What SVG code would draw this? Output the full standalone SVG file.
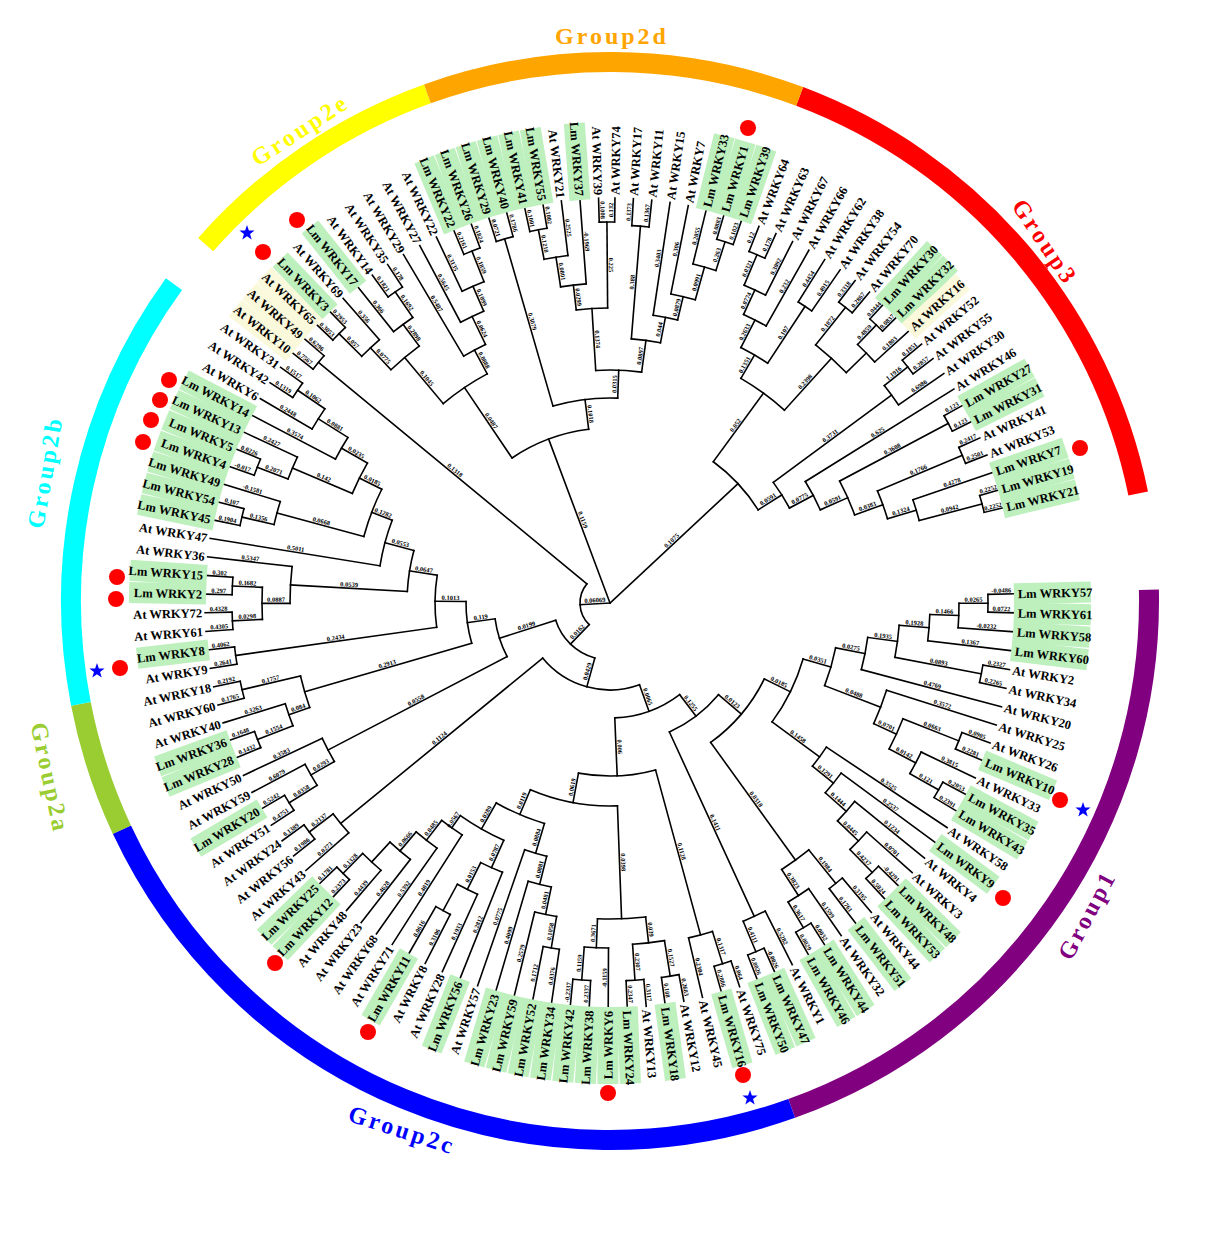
<svg xmlns="http://www.w3.org/2000/svg" width="1227" height="1243" viewBox="0 0 1227 1243">
<style>
.t path,.t circle{fill:none;stroke:#000;stroke-width:1.6;stroke-linecap:square}
.lf text{font:bold 12.5px "Liberation Serif",serif;fill:#000}
.lf text.e{text-anchor:end}
.g{fill:#bdf0bd}
.y{fill:#fbf9dc}
.bl text{font:bold 6.5px "Liberation Serif",serif;fill:#000;text-anchor:middle}
.ring circle{fill:none;stroke-width:20}
.gl{font:bold 24px "Liberation Serif",serif;letter-spacing:3px;text-anchor:middle}
.dot{fill:#f00}
.star{fill:#00f}
</style>
<defs>
<path id="st" d="M0,-8L1.88,-2.59L7.61,-2.47L3.04,0.99L4.7,6.47L0,3.2L-4.7,6.47L-3.04,0.99L-7.61,-2.47L-1.88,-2.59Z"/>
</defs>
<rect width="1227" height="1243" fill="#fff"/>
<g id="group-rings" class="ring">
<circle cx="610" cy="601" r="539" pathLength="360" stroke="#f00" stroke-dasharray="57.9 400" transform="rotate(-69.4 610 601)"/>
<circle cx="610" cy="601" r="539" pathLength="360" stroke="#800080" stroke-dasharray="71.5 400" transform="rotate(-1.2 610 601)"/>
<circle cx="610" cy="601" r="539" pathLength="360" stroke="#00f" stroke-dasharray="84.6 400" transform="rotate(70.3 610 601)"/>
<circle cx="610" cy="601" r="539" pathLength="360" stroke="#9acd32" stroke-dasharray="14.1 400" transform="rotate(154.9 610 601)"/>
<circle cx="610" cy="601" r="539" pathLength="360" stroke="#0ff" stroke-dasharray="47 400" transform="rotate(169 610 601)"/>
<circle cx="610" cy="601" r="539" pathLength="360" stroke="#ff0" stroke-dasharray="28.8 400" transform="rotate(221.4 610 601)"/>
<circle cx="610" cy="601" r="539" pathLength="360" stroke="#ffa500" stroke-dasharray="40.4 400" transform="rotate(250.2 610 601)"/>
</g>
<g id="group-labels" class="gl">
<text x="612" y="44" fill="#ffa500">Group2d</text>
<text transform="translate(1045 242) rotate(56)" y="8" fill="#f00">Group3</text>
<text transform="translate(1087 915) rotate(-62)" y="8" fill="#800080">Group1</text>
<text transform="translate(402 1130) rotate(18)" y="8" fill="#00f">Group2c</text>
<text transform="translate(50 778) rotate(78)" y="8" fill="#9acd32">Group2a</text>
<text transform="translate(45 472) rotate(-80)" y="8" fill="#0ff">Group2b</text>
<text transform="translate(300 130) rotate(-33)" y="8" fill="#ff0">Group2e</text>
</g>
<g transform="translate(610 603)">
<g id="connectors" class="t">
<path d="M0 0H30" transform="rotate(176.7)"/>
<path d="M0 0H175" transform="rotate(249.48)"/>
<path d="M0 0H175" transform="rotate(-43)"/>
<circle r="30" pathLength="360" stroke-dasharray="85.67 400" transform="rotate(133.87)"/>
<path d="M30 0H378" transform="rotate(219.54)"/>
<path d="M30 0H57" transform="rotate(133.87)"/>
<circle r="378" pathLength="360" stroke-dasharray="2.64 400" transform="rotate(218.22)"/>
<path d="M378 0H405" transform="rotate(218.22)"/>
<path d="M378 0H405" transform="rotate(220.86)"/>
<circle r="57" pathLength="360" stroke-dasharray="56.87 400" transform="rotate(105.44)"/>
<path d="M57 0H87" transform="rotate(105.44)"/>
<path d="M57 0H116" transform="rotate(162.31)"/>
<circle r="116" pathLength="360" stroke-dasharray="19.71 400" transform="rotate(152.46)"/>
<path d="M116 0H318" transform="rotate(152.46)"/>
<path d="M116 0H144" transform="rotate(172.17)"/>
<circle r="144" pathLength="360" stroke-dasharray="16.8 400" transform="rotate(163.77)"/>
<path d="M144 0H318" transform="rotate(163.77)"/>
<path d="M144 0H175" transform="rotate(180.57)"/>
<circle r="175" pathLength="360" stroke-dasharray="17.1 400" transform="rotate(172.02)"/>
<path d="M175 0H378" transform="rotate(172.02)"/>
<path d="M175 0H203" transform="rotate(189.12)"/>
<circle r="378" pathLength="360" stroke-dasharray="2.64 400" transform="rotate(170.7)"/>
<path d="M378 0H405" transform="rotate(170.7)"/>
<path d="M378 0H405" transform="rotate(173.34)"/>
<circle r="203" pathLength="360" stroke-dasharray="11.76 400" transform="rotate(183.24)"/>
<path d="M203 0H320" transform="rotate(183.24)"/>
<path d="M203 0H233" transform="rotate(195)"/>
<circle r="320" pathLength="360" stroke-dasharray="6.6 400" transform="rotate(179.94)"/>
<path d="M320 0H348" transform="rotate(179.94)"/>
<path d="M320 0H405" transform="rotate(186.54)"/>
<circle r="348" pathLength="360" stroke-dasharray="5.28 400" transform="rotate(177.3)"/>
<path d="M348 0H378" transform="rotate(177.3)"/>
<path d="M348 0H378" transform="rotate(182.58)"/>
<circle r="378" pathLength="360" stroke-dasharray="2.64 400" transform="rotate(175.98)"/>
<path d="M378 0H405" transform="rotate(175.98)"/>
<path d="M378 0H405" transform="rotate(178.62)"/>
<circle r="378" pathLength="360" stroke-dasharray="2.64 400" transform="rotate(181.26)"/>
<path d="M378 0H405" transform="rotate(181.26)"/>
<path d="M378 0H405" transform="rotate(183.9)"/>
<circle r="233" pathLength="360" stroke-dasharray="11.63 400" transform="rotate(189.18)"/>
<path d="M233 0H405" transform="rotate(189.18)"/>
<path d="M233 0H255" transform="rotate(200.81)"/>
<circle r="255" pathLength="360" stroke-dasharray="11.385 400" transform="rotate(195.12)"/>
<path d="M255 0H345" transform="rotate(195.12)"/>
<path d="M255 0H280" transform="rotate(206.505)"/>
<circle r="345" pathLength="360" stroke-dasharray="3.96 400" transform="rotate(193.14)"/>
<path d="M345 0H378" transform="rotate(193.14)"/>
<path d="M345 0H405" transform="rotate(197.1)"/>
<circle r="378" pathLength="360" stroke-dasharray="2.64 400" transform="rotate(191.82)"/>
<path d="M378 0H405" transform="rotate(191.82)"/>
<path d="M378 0H405" transform="rotate(194.46)"/>
<circle r="280" pathLength="360" stroke-dasharray="6.93 400" transform="rotate(203.04)"/>
<path d="M280 0H345" transform="rotate(203.04)"/>
<path d="M280 0H310" transform="rotate(209.97)"/>
<circle r="345" pathLength="360" stroke-dasharray="3.96 400" transform="rotate(201.06)"/>
<path d="M345 0H378" transform="rotate(201.06)"/>
<path d="M345 0H405" transform="rotate(205.02)"/>
<circle r="378" pathLength="360" stroke-dasharray="2.64 400" transform="rotate(199.74)"/>
<path d="M378 0H405" transform="rotate(199.74)"/>
<path d="M378 0H405" transform="rotate(202.38)"/>
<circle r="310" pathLength="360" stroke-dasharray="4.62 400" transform="rotate(207.66)"/>
<path d="M310 0H405" transform="rotate(207.66)"/>
<path d="M310 0H345" transform="rotate(212.28)"/>
<circle r="345" pathLength="360" stroke-dasharray="3.96 400" transform="rotate(210.3)"/>
<path d="M345 0H405" transform="rotate(210.3)"/>
<path d="M345 0H378" transform="rotate(214.26)"/>
<circle r="378" pathLength="360" stroke-dasharray="2.64 400" transform="rotate(212.94)"/>
<path d="M378 0H405" transform="rotate(212.94)"/>
<path d="M378 0H405" transform="rotate(215.58)"/>
<circle r="318" pathLength="360" stroke-dasharray="5.94 400" transform="rotate(160.8)"/>
<path d="M318 0H340" transform="rotate(160.8)"/>
<path d="M318 0H378" transform="rotate(166.74)"/>
<circle r="340" pathLength="360" stroke-dasharray="3.96 400" transform="rotate(158.82)"/>
<path d="M340 0H378" transform="rotate(158.82)"/>
<path d="M340 0H405" transform="rotate(162.78)"/>
<circle r="378" pathLength="360" stroke-dasharray="2.64 400" transform="rotate(157.5)"/>
<path d="M378 0H405" transform="rotate(157.5)"/>
<path d="M378 0H405" transform="rotate(160.14)"/>
<circle r="378" pathLength="360" stroke-dasharray="2.64 400" transform="rotate(165.42)"/>
<path d="M378 0H405" transform="rotate(165.42)"/>
<path d="M378 0H405" transform="rotate(168.06)"/>
<circle r="318" pathLength="360" stroke-dasharray="4.71 400" transform="rotate(150.1)"/>
<path d="M318 0H345" transform="rotate(150.1)"/>
<path d="M318 0H405" transform="rotate(154.81)"/>
<circle r="345" pathLength="360" stroke-dasharray="4.03 400" transform="rotate(148.09)"/>
<path d="M345 0H378" transform="rotate(148.09)"/>
<path d="M345 0H405" transform="rotate(152.12)"/>
<circle r="378" pathLength="360" stroke-dasharray="2.69 400" transform="rotate(146.74)"/>
<path d="M378 0H405" transform="rotate(146.74)"/>
<path d="M378 0H405" transform="rotate(149.43)"/>
<circle r="87" pathLength="360" stroke-dasharray="70.51 400" transform="rotate(70.18)"/>
<path d="M87 0H115" transform="rotate(70.18)"/>
<path d="M87 0H348" transform="rotate(140.69)"/>
<circle r="348" pathLength="360" stroke-dasharray="4.04 400" transform="rotate(138.67)"/>
<path d="M348 0H405" transform="rotate(138.67)"/>
<path d="M348 0H378" transform="rotate(142.71)"/>
<circle r="378" pathLength="360" stroke-dasharray="2.69 400" transform="rotate(141.36)"/>
<path d="M378 0H405" transform="rotate(141.36)"/>
<path d="M378 0H405" transform="rotate(144.05)"/>
<circle r="115" pathLength="360" stroke-dasharray="34.88 400" transform="rotate(52.74)"/>
<path d="M115 0H142" transform="rotate(52.74)"/>
<path d="M115 0H173" transform="rotate(87.62)"/>
<circle r="173" pathLength="360" stroke-dasharray="25.76 400" transform="rotate(74.74)"/>
<path d="M173 0H344" transform="rotate(74.74)"/>
<path d="M173 0H203" transform="rotate(100.5)"/>
<circle r="344" pathLength="360" stroke-dasharray="4.125 400" transform="rotate(72.675)"/>
<path d="M344 0H378" transform="rotate(72.675)"/>
<path d="M344 0H405" transform="rotate(76.8)"/>
<circle r="378" pathLength="360" stroke-dasharray="2.69 400" transform="rotate(71.33)"/>
<path d="M378 0H405" transform="rotate(71.33)"/>
<path d="M378 0H405" transform="rotate(74.02)"/>
<circle r="203" pathLength="360" stroke-dasharray="25.2 400" transform="rotate(87.9)"/>
<path d="M203 0H316" transform="rotate(87.9)"/>
<path d="M203 0H230" transform="rotate(113.1)"/>
<circle r="316" pathLength="360" stroke-dasharray="8.745 400" transform="rotate(83.525)"/>
<path d="M316 0H342" transform="rotate(83.525)"/>
<path d="M316 0H345" transform="rotate(92.27)"/>
<circle r="342" pathLength="360" stroke-dasharray="5.38 400" transform="rotate(80.835)"/>
<path d="M342 0H378" transform="rotate(80.835)"/>
<path d="M342 0H378" transform="rotate(86.215)"/>
<circle r="378" pathLength="360" stroke-dasharray="2.69 400" transform="rotate(79.49)"/>
<path d="M378 0H405" transform="rotate(79.49)"/>
<path d="M378 0H405" transform="rotate(82.18)"/>
<circle r="378" pathLength="360" stroke-dasharray="2.69 400" transform="rotate(84.87)"/>
<path d="M378 0H405" transform="rotate(84.87)"/>
<path d="M378 0H405" transform="rotate(87.56)"/>
<circle r="345" pathLength="360" stroke-dasharray="4.035 400" transform="rotate(90.25)"/>
<path d="M345 0H405" transform="rotate(90.25)"/>
<path d="M345 0H378" transform="rotate(94.285)"/>
<circle r="378" pathLength="360" stroke-dasharray="2.69 400" transform="rotate(92.94)"/>
<path d="M378 0H405" transform="rotate(92.94)"/>
<path d="M378 0H405" transform="rotate(95.63)"/>
<circle r="230" pathLength="360" stroke-dasharray="13.07 400" transform="rotate(106.56)"/>
<path d="M230 0H261" transform="rotate(106.56)"/>
<path d="M230 0H260" transform="rotate(119.63)"/>
<circle r="261" pathLength="360" stroke-dasharray="5.04 400" transform="rotate(104.04)"/>
<path d="M261 0H290" transform="rotate(104.04)"/>
<path d="M261 0H405" transform="rotate(109.08)"/>
<circle r="290" pathLength="360" stroke-dasharray="4.71 400" transform="rotate(101.68)"/>
<path d="M290 0H318" transform="rotate(101.68)"/>
<path d="M290 0H405" transform="rotate(106.39)"/>
<circle r="318" pathLength="360" stroke-dasharray="4.035 400" transform="rotate(99.665)"/>
<path d="M318 0H350" transform="rotate(99.665)"/>
<path d="M318 0H405" transform="rotate(103.7)"/>
<circle r="350" pathLength="360" stroke-dasharray="2.69 400" transform="rotate(98.32)"/>
<path d="M350 0H405" transform="rotate(98.32)"/>
<path d="M350 0H405" transform="rotate(101.01)"/>
<circle r="260" pathLength="360" stroke-dasharray="11.02 400" transform="rotate(114.12)"/>
<path d="M260 0H290" transform="rotate(114.12)"/>
<path d="M260 0H275" transform="rotate(125.14)"/>
<circle r="290" pathLength="360" stroke-dasharray="4.71 400" transform="rotate(111.77)"/>
<path d="M290 0H405" transform="rotate(111.77)"/>
<path d="M290 0H320" transform="rotate(116.48)"/>
<circle r="320" pathLength="360" stroke-dasharray="4.035 400" transform="rotate(114.46)"/>
<path d="M320 0H405" transform="rotate(114.46)"/>
<path d="M320 0H350" transform="rotate(118.495)"/>
<circle r="350" pathLength="360" stroke-dasharray="2.69 400" transform="rotate(117.15)"/>
<path d="M350 0H405" transform="rotate(117.15)"/>
<path d="M350 0H405" transform="rotate(119.84)"/>
<circle r="275" pathLength="360" stroke-dasharray="5.21 400" transform="rotate(122.53)"/>
<path d="M275 0H405" transform="rotate(122.53)"/>
<path d="M275 0H300" transform="rotate(127.74)"/>
<circle r="300" pathLength="360" stroke-dasharray="5.04 400" transform="rotate(125.22)"/>
<path d="M300 0H405" transform="rotate(125.22)"/>
<path d="M300 0H325" transform="rotate(130.26)"/>
<circle r="325" pathLength="360" stroke-dasharray="4.71 400" transform="rotate(127.91)"/>
<path d="M325 0H405" transform="rotate(127.91)"/>
<path d="M325 0H352" transform="rotate(132.62)"/>
<circle r="352" pathLength="360" stroke-dasharray="4.035 400" transform="rotate(130.6)"/>
<path d="M352 0H405" transform="rotate(130.6)"/>
<path d="M352 0H380" transform="rotate(134.635)"/>
<circle r="380" pathLength="360" stroke-dasharray="2.69 400" transform="rotate(133.29)"/>
<path d="M380 0H405" transform="rotate(133.29)"/>
<path d="M380 0H405" transform="rotate(135.98)"/>
<circle r="142" pathLength="360" stroke-dasharray="25.08 400" transform="rotate(40.2)"/>
<path d="M142 0H172" transform="rotate(40.2)"/>
<path d="M142 0H345" transform="rotate(65.28)"/>
<circle r="345" pathLength="360" stroke-dasharray="4.035 400" transform="rotate(63.26)"/>
<path d="M345 0H405" transform="rotate(63.26)"/>
<path d="M345 0H378" transform="rotate(67.295)"/>
<circle r="378" pathLength="360" stroke-dasharray="2.69 400" transform="rotate(65.95)"/>
<path d="M378 0H405" transform="rotate(65.95)"/>
<path d="M378 0H405" transform="rotate(68.64)"/>
<circle r="172" pathLength="360" stroke-dasharray="27.97 400" transform="rotate(26.21)"/>
<path d="M172 0H201" transform="rotate(26.21)"/>
<path d="M172 0H317" transform="rotate(54.18)"/>
<circle r="317" pathLength="360" stroke-dasharray="6.055 400" transform="rotate(51.155)"/>
<path d="M317 0H360" transform="rotate(51.155)"/>
<path d="M317 0H348" transform="rotate(57.21)"/>
<circle r="360" pathLength="360" stroke-dasharray="2.69 400" transform="rotate(49.81)"/>
<path d="M360 0H405" transform="rotate(49.81)"/>
<path d="M360 0H405" transform="rotate(52.5)"/>
<circle r="348" pathLength="360" stroke-dasharray="4.035 400" transform="rotate(55.19)"/>
<path d="M348 0H405" transform="rotate(55.19)"/>
<path d="M348 0H378" transform="rotate(59.225)"/>
<circle r="378" pathLength="360" stroke-dasharray="2.69 400" transform="rotate(57.88)"/>
<path d="M378 0H405" transform="rotate(57.88)"/>
<path d="M378 0H405" transform="rotate(60.57)"/>
<circle r="201" pathLength="360" stroke-dasharray="20.13 400" transform="rotate(16.15)"/>
<path d="M201 0H230" transform="rotate(16.15)"/>
<path d="M201 0H260" transform="rotate(36.28)"/>
<circle r="260" pathLength="360" stroke-dasharray="5.21 400" transform="rotate(33.67)"/>
<path d="M260 0H405" transform="rotate(33.67)"/>
<path d="M260 0H287" transform="rotate(38.88)"/>
<circle r="287" pathLength="360" stroke-dasharray="5.04 400" transform="rotate(36.36)"/>
<path d="M287 0H405" transform="rotate(36.36)"/>
<path d="M287 0H315" transform="rotate(41.4)"/>
<circle r="315" pathLength="360" stroke-dasharray="4.71 400" transform="rotate(39.05)"/>
<path d="M315 0H405" transform="rotate(39.05)"/>
<path d="M315 0H344" transform="rotate(43.76)"/>
<circle r="344" pathLength="360" stroke-dasharray="4.035 400" transform="rotate(41.74)"/>
<path d="M344 0H405" transform="rotate(41.74)"/>
<path d="M344 0H376" transform="rotate(45.775)"/>
<circle r="376" pathLength="360" stroke-dasharray="2.69 400" transform="rotate(44.43)"/>
<path d="M376 0H405" transform="rotate(44.43)"/>
<path d="M376 0H405" transform="rotate(47.12)"/>
<circle r="230" pathLength="360" stroke-dasharray="9.83 400" transform="rotate(11.23)"/>
<path d="M230 0H260" transform="rotate(11.23)"/>
<path d="M230 0H290" transform="rotate(21.06)"/>
<circle r="260" pathLength="360" stroke-dasharray="7.23 400" transform="rotate(7.61)"/>
<path d="M260 0H290" transform="rotate(7.61)"/>
<path d="M260 0H405" transform="rotate(14.84)"/>
<circle r="290" pathLength="360" stroke-dasharray="6.385 400" transform="rotate(4.42)"/>
<path d="M290 0H320" transform="rotate(4.42)"/>
<path d="M290 0H378" transform="rotate(10.805)"/>
<circle r="320" pathLength="360" stroke-dasharray="4.71 400" transform="rotate(2.06)"/>
<path d="M320 0H349" transform="rotate(2.06)"/>
<path d="M320 0H405" transform="rotate(6.77)"/>
<circle r="349" pathLength="360" stroke-dasharray="4.035 400" transform="rotate(0.045)"/>
<path d="M349 0H378" transform="rotate(0.045)"/>
<path d="M349 0H405" transform="rotate(4.08)"/>
<circle r="378" pathLength="360" stroke-dasharray="2.69 400" transform="rotate(-1.3)"/>
<path d="M378 0H405" transform="rotate(-1.3)"/>
<path d="M378 0H405" transform="rotate(1.39)"/>
<circle r="378" pathLength="360" stroke-dasharray="2.69 400" transform="rotate(9.46)"/>
<path d="M378 0H405" transform="rotate(9.46)"/>
<path d="M378 0H405" transform="rotate(12.15)"/>
<circle r="290" pathLength="360" stroke-dasharray="7.06 400" transform="rotate(17.53)"/>
<path d="M290 0H405" transform="rotate(17.53)"/>
<path d="M290 0H315" transform="rotate(24.59)"/>
<circle r="315" pathLength="360" stroke-dasharray="6.055 400" transform="rotate(21.565)"/>
<path d="M315 0H375" transform="rotate(21.565)"/>
<path d="M315 0H345" transform="rotate(27.62)"/>
<circle r="375" pathLength="360" stroke-dasharray="2.69 400" transform="rotate(20.22)"/>
<path d="M375 0H405" transform="rotate(20.22)"/>
<path d="M375 0H405" transform="rotate(22.91)"/>
<circle r="345" pathLength="360" stroke-dasharray="4.035 400" transform="rotate(25.6)"/>
<path d="M345 0H405" transform="rotate(25.6)"/>
<path d="M345 0H378" transform="rotate(29.635)"/>
<circle r="378" pathLength="360" stroke-dasharray="2.69 400" transform="rotate(28.29)"/>
<path d="M378 0H405" transform="rotate(28.29)"/>
<path d="M378 0H405" transform="rotate(30.98)"/>
<circle r="175" pathLength="360" stroke-dasharray="27.04 400" transform="rotate(235.96)"/>
<path d="M175 0H260" transform="rotate(235.96)"/>
<path d="M175 0H205" transform="rotate(263)"/>
<circle r="260" pathLength="360" stroke-dasharray="11.72 400" transform="rotate(230.1)"/>
<path d="M260 0H320" transform="rotate(230.1)"/>
<path d="M260 0H287" transform="rotate(241.82)"/>
<circle r="320" pathLength="360" stroke-dasharray="6.6 400" transform="rotate(226.8)"/>
<path d="M320 0H350" transform="rotate(226.8)"/>
<path d="M320 0H347" transform="rotate(233.4)"/>
<circle r="350" pathLength="360" stroke-dasharray="3.96 400" transform="rotate(224.82)"/>
<path d="M350 0H382" transform="rotate(224.82)"/>
<path d="M350 0H405" transform="rotate(228.78)"/>
<circle r="382" pathLength="360" stroke-dasharray="2.64 400" transform="rotate(223.5)"/>
<path d="M382 0H405" transform="rotate(223.5)"/>
<path d="M382 0H405" transform="rotate(226.14)"/>
<circle r="347" pathLength="360" stroke-dasharray="3.96 400" transform="rotate(231.42)"/>
<path d="M347 0H405" transform="rotate(231.42)"/>
<path d="M347 0H378" transform="rotate(235.38)"/>
<circle r="378" pathLength="360" stroke-dasharray="2.64 400" transform="rotate(234.06)"/>
<path d="M378 0H405" transform="rotate(234.06)"/>
<path d="M378 0H405" transform="rotate(236.7)"/>
<circle r="287" pathLength="360" stroke-dasharray="4.95 400" transform="rotate(239.34)"/>
<path d="M287 0H405" transform="rotate(239.34)"/>
<path d="M287 0H318" transform="rotate(244.29)"/>
<circle r="318" pathLength="360" stroke-dasharray="4.62 400" transform="rotate(241.98)"/>
<path d="M318 0H405" transform="rotate(241.98)"/>
<path d="M318 0H345" transform="rotate(246.6)"/>
<circle r="345" pathLength="360" stroke-dasharray="3.96 400" transform="rotate(244.62)"/>
<path d="M345 0H405" transform="rotate(244.62)"/>
<path d="M345 0H378" transform="rotate(248.58)"/>
<circle r="378" pathLength="360" stroke-dasharray="2.64 400" transform="rotate(247.26)"/>
<path d="M378 0H405" transform="rotate(247.26)"/>
<path d="M378 0H405" transform="rotate(249.9)"/>
<circle r="205" pathLength="360" stroke-dasharray="18.29 400" transform="rotate(253.86)"/>
<path d="M205 0H379" transform="rotate(253.86)"/>
<path d="M205 0H233" transform="rotate(272.15)"/>
<circle r="379" pathLength="360" stroke-dasharray="2.64 400" transform="rotate(252.54)"/>
<path d="M379 0H405" transform="rotate(252.54)"/>
<path d="M379 0H405" transform="rotate(255.18)"/>
<circle r="233" pathLength="360" stroke-dasharray="11.31 400" transform="rotate(266.49)"/>
<path d="M233 0H295" transform="rotate(266.49)"/>
<path d="M233 0H265" transform="rotate(277.8)"/>
<circle r="295" pathLength="360" stroke-dasharray="6.11 400" transform="rotate(263.43)"/>
<path d="M295 0H320" transform="rotate(263.43)"/>
<path d="M295 0H381" transform="rotate(269.54)"/>
<circle r="320" pathLength="360" stroke-dasharray="4.62 400" transform="rotate(261.12)"/>
<path d="M320 0H350" transform="rotate(261.12)"/>
<path d="M320 0H405" transform="rotate(265.74)"/>
<circle r="350" pathLength="360" stroke-dasharray="3.96 400" transform="rotate(259.14)"/>
<path d="M350 0H380" transform="rotate(259.14)"/>
<path d="M350 0H405" transform="rotate(263.1)"/>
<circle r="380" pathLength="360" stroke-dasharray="2.64 400" transform="rotate(257.82)"/>
<path d="M380 0H405" transform="rotate(257.82)"/>
<path d="M380 0H405" transform="rotate(260.46)"/>
<circle r="381" pathLength="360" stroke-dasharray="2.32 400" transform="rotate(268.38)"/>
<path d="M381 0H405" transform="rotate(268.38)"/>
<path d="M381 0H405" transform="rotate(270.7)"/>
<circle r="265" pathLength="360" stroke-dasharray="6.36 400" transform="rotate(274.62)"/>
<path d="M265 0H378" transform="rotate(274.62)"/>
<path d="M265 0H291" transform="rotate(280.98)"/>
<circle r="378" pathLength="360" stroke-dasharray="2.61 400" transform="rotate(273.31)"/>
<path d="M378 0H405" transform="rotate(273.31)"/>
<path d="M378 0H405" transform="rotate(275.92)"/>
<circle r="291" pathLength="360" stroke-dasharray="4.9 400" transform="rotate(278.53)"/>
<path d="M291 0H405" transform="rotate(278.53)"/>
<path d="M291 0H315" transform="rotate(283.43)"/>
<circle r="315" pathLength="360" stroke-dasharray="4.57 400" transform="rotate(281.14)"/>
<path d="M315 0H405" transform="rotate(281.14)"/>
<path d="M315 0H349" transform="rotate(285.71)"/>
<circle r="349" pathLength="360" stroke-dasharray="3.92 400" transform="rotate(283.75)"/>
<path d="M349 0H405" transform="rotate(283.75)"/>
<path d="M349 0H379" transform="rotate(287.67)"/>
<circle r="379" pathLength="360" stroke-dasharray="2.61 400" transform="rotate(286.36)"/>
<path d="M379 0H405" transform="rotate(286.36)"/>
<path d="M379 0H405" transform="rotate(288.97)"/>
<circle r="175" pathLength="360" stroke-dasharray="21.65 400" transform="rotate(-53.82)"/>
<path d="M175 0H260" transform="rotate(-53.82)"/>
<path d="M175 0H203" transform="rotate(-32.17)"/>
<circle r="260" pathLength="360" stroke-dasharray="11.905 400" transform="rotate(-59.775)"/>
<path d="M260 0H287" transform="rotate(-59.775)"/>
<path d="M260 0H330" transform="rotate(-47.87)"/>
<circle r="287" pathLength="360" stroke-dasharray="6.2 400" transform="rotate(-62.875)"/>
<path d="M287 0H318" transform="rotate(-62.875)"/>
<path d="M287 0H355" transform="rotate(-56.675)"/>
<circle r="318" pathLength="360" stroke-dasharray="4.57 400" transform="rotate(-65.16)"/>
<path d="M318 0H345" transform="rotate(-65.16)"/>
<path d="M318 0H405" transform="rotate(-60.59)"/>
<circle r="345" pathLength="360" stroke-dasharray="3.915 400" transform="rotate(-67.115)"/>
<path d="M345 0H378" transform="rotate(-67.115)"/>
<path d="M345 0H405" transform="rotate(-63.2)"/>
<circle r="378" pathLength="360" stroke-dasharray="2.61 400" transform="rotate(-68.42)"/>
<path d="M378 0H405" transform="rotate(-68.42)"/>
<path d="M378 0H405" transform="rotate(-65.81)"/>
<circle r="355" pathLength="360" stroke-dasharray="2.61 400" transform="rotate(-57.98)"/>
<path d="M355 0H405" transform="rotate(-57.98)"/>
<path d="M355 0H405" transform="rotate(-55.37)"/>
<circle r="330" pathLength="360" stroke-dasharray="7.175 400" transform="rotate(-51.455)"/>
<path d="M330 0H378" transform="rotate(-51.455)"/>
<path d="M330 0H358" transform="rotate(-44.28)"/>
<circle r="378" pathLength="360" stroke-dasharray="2.61 400" transform="rotate(-52.76)"/>
<path d="M378 0H405" transform="rotate(-52.76)"/>
<path d="M378 0H405" transform="rotate(-50.15)"/>
<circle r="358" pathLength="360" stroke-dasharray="3.915 400" transform="rotate(-46.235)"/>
<path d="M358 0H385" transform="rotate(-46.235)"/>
<path d="M358 0H405" transform="rotate(-42.32)"/>
<circle r="385" pathLength="360" stroke-dasharray="2.61 400" transform="rotate(-47.54)"/>
<path d="M385 0H405" transform="rotate(-47.54)"/>
<path d="M385 0H405" transform="rotate(-44.93)"/>
<circle r="203" pathLength="360" stroke-dasharray="8.565 400" transform="rotate(-36.45)"/>
<path d="M203 0H350" transform="rotate(-36.45)"/>
<path d="M203 0H230" transform="rotate(-27.885)"/>
<circle r="350" pathLength="360" stroke-dasharray="3.915 400" transform="rotate(-38.405)"/>
<path d="M350 0H380" transform="rotate(-38.405)"/>
<path d="M350 0H405" transform="rotate(-34.49)"/>
<circle r="380" pathLength="360" stroke-dasharray="2.61 400" transform="rotate(-39.71)"/>
<path d="M380 0H405" transform="rotate(-39.71)"/>
<path d="M380 0H405" transform="rotate(-37.1)"/>
<circle r="230" pathLength="360" stroke-dasharray="7.99 400" transform="rotate(-31.88)"/>
<path d="M230 0H405" transform="rotate(-31.88)"/>
<path d="M230 0H260" transform="rotate(-23.89)"/>
<circle r="260" pathLength="360" stroke-dasharray="8.155 400" transform="rotate(-27.965)"/>
<path d="M260 0H383" transform="rotate(-27.965)"/>
<path d="M260 0H290" transform="rotate(-19.81)"/>
<circle r="383" pathLength="360" stroke-dasharray="2.61 400" transform="rotate(-29.27)"/>
<path d="M383 0H405" transform="rotate(-29.27)"/>
<path d="M383 0H405" transform="rotate(-26.66)"/>
<circle r="290" pathLength="360" stroke-dasharray="5.875 400" transform="rotate(-22.745)"/>
<path d="M290 0H382" transform="rotate(-22.745)"/>
<path d="M290 0H320" transform="rotate(-16.87)"/>
<circle r="382" pathLength="360" stroke-dasharray="2.61 400" transform="rotate(-24.05)"/>
<path d="M382 0H405" transform="rotate(-24.05)"/>
<path d="M382 0H405" transform="rotate(-21.44)"/>
<circle r="320" pathLength="360" stroke-dasharray="3.915 400" transform="rotate(-18.83)"/>
<path d="M320 0H405" transform="rotate(-18.83)"/>
<path d="M320 0H385" transform="rotate(-14.915)"/>
<circle r="385" pathLength="360" stroke-dasharray="2.61 400" transform="rotate(-16.22)"/>
<path d="M385 0H405" transform="rotate(-16.22)"/>
<path d="M385 0H405" transform="rotate(-13.61)"/>
</g>
<g id="branch-lengths" class="bl">
<text transform="rotate(-3.3)" x="-15" y="-1.5">0.06069</text>
<text transform="rotate(69.48)" x="-87.5" y="-1.5">0.1159</text>
<text transform="rotate(-43)" x="87.5" y="-1.5">0.1075</text>
<text transform="rotate(39.54)" x="-204" y="-1.5">0.1318</text>
<text transform="rotate(-46.13)" x="-43.5" y="-1.5">0.0162</text>
<text transform="rotate(38.22)" x="-391.5" y="-1.5">0.7567</text>
<text transform="rotate(40.86)" x="-391.5" y="-1.5">0.6296</text>
<text transform="rotate(-74.56)" x="-72" y="-1.5">0.0429</text>
<text transform="rotate(-17.69)" x="-86.5" y="-1.5">0.0199</text>
<text transform="rotate(-27.54)" x="-217" y="-1.5">0.0558</text>
<text transform="rotate(-7.83)" x="-130" y="-1.5">0.119</text>
<text transform="rotate(-16.23)" x="-231" y="-1.5">0.2913</text>
<text transform="rotate(0.57)" x="-159.5" y="-1.5">0.1013</text>
<text transform="rotate(-7.98)" x="-276.5" y="-1.5">0.2434</text>
<text transform="rotate(9.12)" x="-189" y="-1.5">0.0647</text>
<text transform="rotate(-9.3)" x="-391.5" y="-1.5">0.2641</text>
<text transform="rotate(-6.66)" x="-391.5" y="-1.5">0.4062</text>
<text transform="rotate(3.24)" x="-261.5" y="-1.5">0.0539</text>
<text transform="rotate(15)" x="-218" y="-1.5">0.0553</text>
<text transform="rotate(-0.06)" x="-334" y="-1.5">0.0887</text>
<text transform="rotate(6.54)" x="-362.5" y="-1.5">0.5347</text>
<text transform="rotate(-2.7)" x="-363" y="-1.5">0.0298</text>
<text transform="rotate(2.58)" x="-363" y="-1.5">0.1682</text>
<text transform="rotate(-4.02)" x="-391.5" y="-1.5">0.4305</text>
<text transform="rotate(-1.38)" x="-391.5" y="-1.5">0.4328</text>
<text transform="rotate(1.26)" x="-391.5" y="-1.5">0.297</text>
<text transform="rotate(3.9)" x="-391.5" y="-1.5">0.302</text>
<text transform="rotate(9.18)" x="-319" y="-1.5">0.5011</text>
<text transform="rotate(20.81)" x="-244" y="-1.5">0.1282</text>
<text transform="rotate(15.12)" x="-300" y="-1.5">0.0668</text>
<text transform="rotate(26.505)" x="-267.5" y="-1.5">0.0185</text>
<text transform="rotate(13.14)" x="-361.5" y="-1.5">0.1356</text>
<text transform="rotate(17.1)" x="-375" y="-1.5">-0.1581</text>
<text transform="rotate(11.82)" x="-391.5" y="-1.5">0.1904</text>
<text transform="rotate(14.46)" x="-391.5" y="-1.5">0.107</text>
<text transform="rotate(23.04)" x="-312.5" y="-1.5">0.142</text>
<text transform="rotate(29.97)" x="-295" y="-1.5">0.0235</text>
<text transform="rotate(21.06)" x="-361.5" y="-1.5">0.2071</text>
<text transform="rotate(25.02)" x="-375" y="-1.5">0.2427</text>
<text transform="rotate(19.74)" x="-391.5" y="-1.5">-0.017</text>
<text transform="rotate(22.38)" x="-391.5" y="-1.5">0.0226</text>
<text transform="rotate(27.66)" x="-357.5" y="-1.5">0.3574</text>
<text transform="rotate(32.28)" x="-327.5" y="-1.5">0.0881</text>
<text transform="rotate(30.3)" x="-375" y="-1.5">0.2448</text>
<text transform="rotate(34.26)" x="-361.5" y="-1.5">0.1062</text>
<text transform="rotate(32.94)" x="-391.5" y="-1.5">0.1319</text>
<text transform="rotate(35.58)" x="-391.5" y="-1.5">0.1517</text>
<text transform="rotate(-19.2)" x="-329" y="-1.5">0.084</text>
<text transform="rotate(-13.26)" x="-348" y="-1.5">0.1757</text>
<text transform="rotate(-21.18)" x="-359" y="-1.5">0.1554</text>
<text transform="rotate(-17.22)" x="-372.5" y="-1.5">0.3263</text>
<text transform="rotate(-22.5)" x="-391.5" y="-1.5">0.1432</text>
<text transform="rotate(-19.86)" x="-391.5" y="-1.5">0.1648</text>
<text transform="rotate(-14.58)" x="-391.5" y="-1.5">0.1765</text>
<text transform="rotate(-11.94)" x="-391.5" y="-1.5">0.2192</text>
<text transform="rotate(-29.9)" x="-331.5" y="-1.5">0.0293</text>
<text transform="rotate(-25.19)" x="-361.5" y="-1.5">0.3583</text>
<text transform="rotate(-31.91)" x="-361.5" y="-1.5">0.0358</text>
<text transform="rotate(-27.88)" x="-375" y="-1.5">0.6079</text>
<text transform="rotate(-33.26)" x="-391.5" y="-1.5">0.4751</text>
<text transform="rotate(-30.57)" x="-391.5" y="-1.5">0.5242</text>
<text transform="rotate(70.18)" x="101" y="-1.5">0.0065</text>
<text transform="rotate(-39.31)" x="-217.5" y="-1.5">0.1124</text>
<text transform="rotate(-41.33)" x="-376.5" y="-1.5">0.0273</text>
<text transform="rotate(-37.29)" x="-363" y="-1.5">0.2137</text>
<text transform="rotate(-38.64)" x="-391.5" y="-1.5">0.1986</text>
<text transform="rotate(-35.95)" x="-391.5" y="-1.5">0.1389</text>
<text transform="rotate(52.74)" x="128.5" y="-1.5">0.1255</text>
<text transform="rotate(87.62)" x="144" y="-1.5">0.006</text>
<text transform="rotate(74.74)" x="258.5" y="-1.5">0.1128</text>
<text transform="rotate(-79.5)" x="-188" y="-1.5">0.0619</text>
<text transform="rotate(72.675)" x="361" y="-1.5">0.1317</text>
<text transform="rotate(76.8)" x="374.5" y="-1.5">0.2304</text>
<text transform="rotate(71.33)" x="391.5" y="-1.5">0.064</text>
<text transform="rotate(74.02)" x="391.5" y="-1.5">0.2886</text>
<text transform="rotate(87.9)" x="259.5" y="-1.5">0.0398</text>
<text transform="rotate(-66.9)" x="-216.5" y="-1.5">0.0119</text>
<text transform="rotate(83.525)" x="329" y="-1.5">0.039</text>
<text transform="rotate(-87.73)" x="-330.5" y="-1.5">0.3671</text>
<text transform="rotate(80.835)" x="360" y="-1.5">0.1527</text>
<text transform="rotate(86.215)" x="360" y="-1.5">0.2307</text>
<text transform="rotate(79.49)" x="391.5" y="-1.5">0.2683</text>
<text transform="rotate(82.18)" x="391.5" y="-1.5">0.108</text>
<text transform="rotate(84.87)" x="391.5" y="-1.5">0.3117</text>
<text transform="rotate(87.56)" x="391.5" y="-1.5">0.2347</text>
<text transform="rotate(-89.75)" x="-375" y="-1.5">-0.1159</text>
<text transform="rotate(-85.715)" x="-361.5" y="-1.5">0.1159</text>
<text transform="rotate(-87.06)" x="-391.5" y="-1.5">0.2337</text>
<text transform="rotate(-84.37)" x="-391.5" y="-1.5">-0.2337</text>
<text transform="rotate(-73.44)" x="-245.5" y="-1.5">0.0884</text>
<text transform="rotate(-60.37)" x="-245" y="-1.5">0.0289</text>
<text transform="rotate(-75.96)" x="-275.5" y="-1.5">0.0881</text>
<text transform="rotate(-70.92)" x="-333" y="-1.5">0.0775</text>
<text transform="rotate(-78.32)" x="-304" y="-1.5">0.0481</text>
<text transform="rotate(-73.61)" x="-347.5" y="-1.5">0.4099</text>
<text transform="rotate(-80.335)" x="-334" y="-1.5">0.1058</text>
<text transform="rotate(-76.3)" x="-361.5" y="-1.5">0.2579</text>
<text transform="rotate(-81.68)" x="-377.5" y="-1.5">0.0376</text>
<text transform="rotate(-78.99)" x="-377.5" y="-1.5">0.1712</text>
<text transform="rotate(-65.88)" x="-275" y="-1.5">0.0787</text>
<text transform="rotate(-54.86)" x="-267.5" y="-1.5">0.0567</text>
<text transform="rotate(-68.23)" x="-347.5" y="-1.5">0.2812</text>
<text transform="rotate(-63.52)" x="-305" y="-1.5">0.0153</text>
<text transform="rotate(-65.54)" x="-362.5" y="-1.5">0.1933</text>
<text transform="rotate(-62.85)" x="-377.5" y="-1.5">0.3106</text>
<text transform="rotate(-60.16)" x="-377.5" y="-1.5">0.0616</text>
<text transform="rotate(-57.47)" x="-340" y="-1.5">0.4019</text>
<text transform="rotate(-52.26)" x="-287.5" y="-1.5">0.0485</text>
<text transform="rotate(-54.78)" x="-352.5" y="-1.5">0.5392</text>
<text transform="rotate(-49.74)" x="-312.5" y="-1.5">0.0666</text>
<text transform="rotate(-52.09)" x="-365" y="-1.5">0.4628</text>
<text transform="rotate(-49.4)" x="-378.5" y="-1.5">0.4439</text>
<text transform="rotate(-45.365)" x="-366" y="-1.5">0.1328</text>
<text transform="rotate(-46.71)" x="-392.5" y="-1.5">0.2373</text>
<text transform="rotate(-44.02)" x="-392.5" y="-1.5">0.1781</text>
<text transform="rotate(40.2)" x="157" y="-1.5">0.0123</text>
<text transform="rotate(65.28)" x="243.5" y="-1.5">0.1411</text>
<text transform="rotate(63.26)" x="375" y="-1.5">0.5282</text>
<text transform="rotate(67.295)" x="361.5" y="-1.5">0.4111</text>
<text transform="rotate(65.95)" x="391.5" y="-1.5">-0.0026</text>
<text transform="rotate(68.64)" x="391.5" y="-1.5">0.0026</text>
<text transform="rotate(26.21)" x="186.5" y="-1.5">0.0185</text>
<text transform="rotate(54.18)" x="244.5" y="-1.5">0.0318</text>
<text transform="rotate(51.155)" x="338.5" y="-1.5">0.1984</text>
<text transform="rotate(57.21)" x="332.5" y="-1.5">0.3823</text>
<text transform="rotate(49.81)" x="382.5" y="-1.5">0.3195</text>
<text transform="rotate(52.5)" x="382.5" y="-1.5">0.1761</text>
<text transform="rotate(55.19)" x="376.5" y="-1.5">0.1599</text>
<text transform="rotate(59.225)" x="363" y="-1.5">0.3617</text>
<text transform="rotate(57.88)" x="391.5" y="-1.5">0.0032</text>
<text transform="rotate(60.57)" x="391.5" y="-1.5">0.0029</text>
<text transform="rotate(16.15)" x="215.5" y="-1.5">0.0351</text>
<text transform="rotate(36.28)" x="230.5" y="-1.5">0.1458</text>
<text transform="rotate(33.67)" x="332.5" y="-1.5">0.3525</text>
<text transform="rotate(38.88)" x="273.5" y="-1.5">0.1291</text>
<text transform="rotate(36.36)" x="346" y="-1.5">0.2537</text>
<text transform="rotate(41.4)" x="301" y="-1.5">0.1444</text>
<text transform="rotate(39.05)" x="360" y="-1.5">0.1234</text>
<text transform="rotate(43.76)" x="329.5" y="-1.5">0.0445</text>
<text transform="rotate(41.74)" x="374.5" y="-1.5">0.0701</text>
<text transform="rotate(45.775)" x="360" y="-1.5">0.4237</text>
<text transform="rotate(44.43)" x="390.5" y="-1.5">-0.4291</text>
<text transform="rotate(47.12)" x="390.5" y="-1.5">0.5024</text>
<text transform="rotate(11.23)" x="245" y="-1.5">0.0275</text>
<text transform="rotate(21.06)" x="260" y="-1.5">0.0488</text>
<text transform="rotate(7.61)" x="275" y="-1.5">0.1935</text>
<text transform="rotate(14.84)" x="332.5" y="-1.5">0.4769</text>
<text transform="rotate(4.42)" x="305" y="-1.5">0.1928</text>
<text transform="rotate(10.805)" x="334" y="-1.5">0.0893</text>
<text transform="rotate(2.06)" x="334.5" y="-1.5">0.1466</text>
<text transform="rotate(6.77)" x="362.5" y="-1.5">0.1367</text>
<text transform="rotate(0.045)" x="363.5" y="-1.5">0.0265</text>
<text transform="rotate(4.08)" x="377" y="-1.5">-0.0232</text>
<text transform="rotate(-1.3)" x="391.5" y="-1.5">-0.0486</text>
<text transform="rotate(1.39)" x="391.5" y="-1.5">0.0722</text>
<text transform="rotate(9.46)" x="391.5" y="-1.5">0.2327</text>
<text transform="rotate(12.15)" x="391.5" y="-1.5">0.2265</text>
<text transform="rotate(17.53)" x="347.5" y="-1.5">0.3572</text>
<text transform="rotate(24.59)" x="302.5" y="-1.5">0.0701</text>
<text transform="rotate(21.565)" x="345" y="-1.5">0.0663</text>
<text transform="rotate(27.62)" x="330" y="-1.5">0.0142</text>
<text transform="rotate(20.22)" x="390" y="-1.5">0.0905</text>
<text transform="rotate(22.91)" x="390" y="-1.5">0.2281</text>
<text transform="rotate(25.6)" x="375" y="-1.5">0.3815</text>
<text transform="rotate(29.635)" x="361.5" y="-1.5">0.121</text>
<text transform="rotate(28.29)" x="391.5" y="-1.5">0.2053</text>
<text transform="rotate(30.98)" x="391.5" y="-1.5">0.2391</text>
<text transform="rotate(55.96)" x="-217.5" y="-1.5">0.0487</text>
<text transform="rotate(83)" x="-190" y="-1.5">0.1018</text>
<text transform="rotate(50.1)" x="-290" y="-1.5">0.1045</text>
<text transform="rotate(61.82)" x="-273.5" y="-1.5">0.0888</text>
<text transform="rotate(46.8)" x="-335" y="-1.5">0.0775</text>
<text transform="rotate(53.4)" x="-333.5" y="-1.5">0.2898</text>
<text transform="rotate(44.82)" x="-366" y="-1.5">0.057</text>
<text transform="rotate(48.78)" x="-377.5" y="-1.5">0.356</text>
<text transform="rotate(43.5)" x="-393.5" y="-1.5">0.3053</text>
<text transform="rotate(46.14)" x="-393.5" y="-1.5">0.2953</text>
<text transform="rotate(51.42)" x="-376" y="-1.5">0.366</text>
<text transform="rotate(55.38)" x="-362.5" y="-1.5">0.1692</text>
<text transform="rotate(54.06)" x="-391.5" y="-1.5">0.1821</text>
<text transform="rotate(56.7)" x="-391.5" y="-1.5">0.178</text>
<text transform="rotate(59.34)" x="-346" y="-1.5">0.5487</text>
<text transform="rotate(64.29)" x="-302.5" y="-1.5">0.0624</text>
<text transform="rotate(61.98)" x="-361.5" y="-1.5">0.5645</text>
<text transform="rotate(66.6)" x="-331.5" y="-1.5">0.1099</text>
<text transform="rotate(64.62)" x="-375" y="-1.5">0.3135</text>
<text transform="rotate(68.58)" x="-361.5" y="-1.5">0.1859</text>
<text transform="rotate(67.26)" x="-391.5" y="-1.5">0.2161</text>
<text transform="rotate(69.9)" x="-391.5" y="-1.5">0.1824</text>
<text transform="rotate(73.86)" x="-292" y="-1.5">0.3079</text>
<text transform="rotate(272.15)" x="219" y="-1.5">0.0315</text>
<text transform="rotate(72.54)" x="-392" y="-1.5">0.0721</text>
<text transform="rotate(75.18)" x="-392" y="-1.5">0.1786</text>
<text transform="rotate(86.49)" x="-264" y="-1.5">0.1374</text>
<text transform="rotate(277.8)" x="249" y="-1.5">0.0897</text>
<text transform="rotate(83.43)" x="-307.5" y="-1.5">0.0299</text>
<text transform="rotate(89.54)" x="-338" y="-1.5">0.225</text>
<text transform="rotate(81.12)" x="-335" y="-1.5">0.0801</text>
<text transform="rotate(85.74)" x="-362.5" y="-1.5">-0.1969</text>
<text transform="rotate(79.14)" x="-365" y="-1.5">0.1218</text>
<text transform="rotate(83.1)" x="-377.5" y="-1.5">0.2525</text>
<text transform="rotate(77.82)" x="-392.5" y="-1.5">0.1001</text>
<text transform="rotate(80.46)" x="-392.5" y="-1.5">0.1002</text>
<text transform="rotate(88.38)" x="-393" y="-1.5">0.1008</text>
<text transform="rotate(270.7)" x="393" y="-1.5">0.132</text>
<text transform="rotate(274.62)" x="321.5" y="-1.5">0.388</text>
<text transform="rotate(280.98)" x="278" y="-1.5">0.044</text>
<text transform="rotate(273.31)" x="391.5" y="-1.5">0.1373</text>
<text transform="rotate(275.92)" x="391.5" y="-1.5">0.1367</text>
<text transform="rotate(278.53)" x="348" y="-1.5">0.3403</text>
<text transform="rotate(283.43)" x="303" y="-1.5">0.0879</text>
<text transform="rotate(281.14)" x="360" y="-1.5">0.306</text>
<text transform="rotate(285.71)" x="332" y="-1.5">0.0991</text>
<text transform="rotate(283.75)" x="377" y="-1.5">0.2055</text>
<text transform="rotate(287.67)" x="364" y="-1.5">0.263</text>
<text transform="rotate(286.36)" x="392" y="-1.5">0.0883</text>
<text transform="rotate(288.97)" x="392" y="-1.5">0.1023</text>
<text transform="rotate(-53.82)" x="217.5" y="-1.5">0.052</text>
<text transform="rotate(-32.17)" x="189" y="-1.5">0.0591</text>
<text transform="rotate(-59.775)" x="273.5" y="-1.5">0.1351</text>
<text transform="rotate(-47.87)" x="295" y="-1.5">0.2398</text>
<text transform="rotate(-62.875)" x="302.5" y="-1.5">0.2633</text>
<text transform="rotate(-56.675)" x="321" y="-1.5">0.107</text>
<text transform="rotate(-65.16)" x="331.5" y="-1.5">0.0774</text>
<text transform="rotate(-60.59)" x="361.5" y="-1.5">0.232</text>
<text transform="rotate(-67.115)" x="361.5" y="-1.5">0.0321</text>
<text transform="rotate(-63.2)" x="375" y="-1.5">0.3092</text>
<text transform="rotate(-68.42)" x="391.5" y="-1.5">0.12</text>
<text transform="rotate(-65.81)" x="391.5" y="-1.5">0.178</text>
<text transform="rotate(-57.98)" x="380" y="-1.5">0.4454</text>
<text transform="rotate(-55.37)" x="380" y="-1.5">0.4915</text>
<text transform="rotate(-51.455)" x="354" y="-1.5">0.1872</text>
<text transform="rotate(-52.76)" x="391.5" y="-1.5">0.3318</text>
<text transform="rotate(-50.15)" x="391.5" y="-1.5">0.2867</text>
<text transform="rotate(-46.235)" x="371.5" y="-1.5">0.4859</text>
<text transform="rotate(-42.32)" x="381.5" y="-1.5">0.1803</text>
<text transform="rotate(-47.54)" x="395" y="-1.5">0.0444</text>
<text transform="rotate(-44.93)" x="395" y="-1.5">0.0837</text>
<text transform="rotate(-36.45)" x="276.5" y="-1.5">0.3731</text>
<text transform="rotate(-27.885)" x="216.5" y="-1.5">0.0775</text>
<text transform="rotate(-38.405)" x="365" y="-1.5">1.1916</text>
<text transform="rotate(-34.49)" x="377.5" y="-1.5">0.6986</text>
<text transform="rotate(-39.71)" x="392.5" y="-1.5">0.1851</text>
<text transform="rotate(-37.1)" x="392.5" y="-1.5">0.2857</text>
<text transform="rotate(-31.88)" x="317.5" y="-1.5">0.625</text>
<text transform="rotate(-23.89)" x="245" y="-1.5">0.0591</text>
<text transform="rotate(-27.965)" x="321.5" y="-1.5">0.3608</text>
<text transform="rotate(-19.81)" x="275" y="-1.5">0.0383</text>
<text transform="rotate(-29.27)" x="394" y="-1.5">0.123</text>
<text transform="rotate(-26.66)" x="394" y="-1.5">0.123</text>
<text transform="rotate(-22.745)" x="336" y="-1.5">0.1766</text>
<text transform="rotate(-16.87)" x="305" y="-1.5">0.1324</text>
<text transform="rotate(-24.05)" x="393.5" y="-1.5">0.2417</text>
<text transform="rotate(-21.44)" x="393.5" y="-1.5">0.2501</text>
<text transform="rotate(-18.83)" x="362.5" y="-1.5">0.4278</text>
<text transform="rotate(-14.915)" x="352.5" y="-1.5">0.0942</text>
<text transform="rotate(-16.22)" x="395" y="-1.5">0.2252</text>
<text transform="rotate(-13.61)" x="395" y="-1.5">0.2252</text>
</g>
<g id="leaves" class="lf">
<g id="AtWRKY74" transform="rotate(-89.3)"><text x="408" y="4.5">At WRKY74</text></g>
<g id="AtWRKY17" transform="rotate(-86.69)"><text x="408" y="4.5">At WRKY17</text></g>
<g id="AtWRKY11" transform="rotate(-84.08)"><text x="408" y="4.5">At WRKY11</text></g>
<g id="AtWRKY15" transform="rotate(-81.47)"><text x="408" y="4.5">At WRKY15</text></g>
<g id="AtWRKY7" transform="rotate(-78.86)"><text x="408" y="4.5">At WRKY7</text></g>
<g id="LmWRKY33" transform="rotate(-76.25)"><rect class="g" x="404" y="-10.5" width="77" height="21"/><text x="408" y="4.5">Lm WRKY33</text></g>
<g id="LmWRKY1" transform="rotate(-73.64)"><rect class="g" x="404" y="-10.5" width="77" height="21"/><text x="408" y="4.5">Lm WRKY1</text></g>
<g id="LmWRKY39" transform="rotate(-71.03)"><rect class="g" x="404" y="-10.5" width="77" height="21"/><text x="408" y="4.5">Lm WRKY39</text></g>
<g id="AtWRKY64" transform="rotate(-68.42)"><text x="408" y="4.5">At WRKY64</text></g>
<g id="AtWRKY63" transform="rotate(-65.81)"><text x="408" y="4.5">At WRKY63</text></g>
<g id="AtWRKY67" transform="rotate(-63.2)"><text x="408" y="4.5">At WRKY67</text></g>
<g id="AtWRKY66" transform="rotate(-60.59)"><text x="408" y="4.5">At WRKY66</text></g>
<g id="AtWRKY62" transform="rotate(-57.98)"><text x="408" y="4.5">At WRKY62</text></g>
<g id="AtWRKY38" transform="rotate(-55.37)"><text x="408" y="4.5">At WRKY38</text></g>
<g id="AtWRKY54" transform="rotate(-52.76)"><text x="408" y="4.5">At WRKY54</text></g>
<g id="AtWRKY70" transform="rotate(-50.15)"><text x="408" y="4.5">At WRKY70</text></g>
<g id="LmWRKY30" transform="rotate(-47.54)"><rect class="g" x="404" y="-10.5" width="77" height="21"/><text x="408" y="4.5">Lm WRKY30</text></g>
<g id="LmWRKY32" transform="rotate(-44.93)"><rect class="g" x="404" y="-10.5" width="77" height="21"/><text x="408" y="4.5">Lm WRKY32</text></g>
<g id="AtWRKY16" transform="rotate(-42.32)"><rect class="y" x="404" y="-10.5" width="73" height="21"/><text x="408" y="4.5">At WRKY16</text></g>
<g id="AtWRKY52" transform="rotate(-39.71)"><text x="408" y="4.5">At WRKY52</text></g>
<g id="AtWRKY55" transform="rotate(-37.1)"><text x="408" y="4.5">At WRKY55</text></g>
<g id="AtWRKY30" transform="rotate(-34.49)"><text x="408" y="4.5">At WRKY30</text></g>
<g id="AtWRKY46" transform="rotate(-31.88)"><text x="408" y="4.5">At WRKY46</text></g>
<g id="LmWRKY27" transform="rotate(-29.27)"><rect class="g" x="404" y="-10.5" width="77" height="21"/><text x="408" y="4.5">Lm WRKY27</text></g>
<g id="LmWRKY31" transform="rotate(-26.66)"><rect class="g" x="404" y="-10.5" width="77" height="21"/><text x="408" y="4.5">Lm WRKY31</text></g>
<g id="AtWRKY41" transform="rotate(-24.05)"><text x="408" y="4.5">At WRKY41</text></g>
<g id="AtWRKY53" transform="rotate(-21.44)"><text x="408" y="4.5">At WRKY53</text></g>
<g id="LmWRKY7" transform="rotate(-18.83)"><rect class="g" x="404" y="-10.5" width="77" height="21"/><text x="408" y="4.5">Lm WRKY7</text></g>
<g id="LmWRKY19" transform="rotate(-16.22)"><rect class="g" x="404" y="-10.5" width="77" height="21"/><text x="408" y="4.5">Lm WRKY19</text></g>
<g id="LmWRKY21" transform="rotate(-13.61)"><rect class="g" x="404" y="-10.5" width="77" height="21"/><text x="408" y="4.5">Lm WRKY21</text></g>
<g id="LmWRKY57" transform="rotate(-1.3)"><rect class="g" x="404" y="-10.5" width="77" height="21"/><text x="408" y="4.5">Lm WRKY57</text></g>
<g id="LmWRKY61" transform="rotate(1.39)"><rect class="g" x="404" y="-10.5" width="77" height="21"/><text x="408" y="4.5">Lm WRKY61</text></g>
<g id="LmWRKY58" transform="rotate(4.08)"><rect class="g" x="404" y="-10.5" width="77" height="21"/><text x="408" y="4.5">Lm WRKY58</text></g>
<g id="LmWRKY60" transform="rotate(6.77)"><rect class="g" x="404" y="-10.5" width="77" height="21"/><text x="408" y="4.5">Lm WRKY60</text></g>
<g id="AtWRKY2" transform="rotate(9.46)"><text x="408" y="4.5">At WRKY2</text></g>
<g id="AtWRKY34" transform="rotate(12.15)"><text x="408" y="4.5">At WRKY34</text></g>
<g id="AtWRKY20" transform="rotate(14.84)"><text x="408" y="4.5">At WRKY20</text></g>
<g id="AtWRKY25" transform="rotate(17.53)"><text x="408" y="4.5">At WRKY25</text></g>
<g id="AtWRKY26" transform="rotate(20.22)"><text x="408" y="4.5">At WRKY26</text></g>
<g id="LmWRKY10" transform="rotate(22.91)"><rect class="g" x="404" y="-10.5" width="77" height="21"/><text x="408" y="4.5">Lm WRKY10</text></g>
<g id="AtWRKY33" transform="rotate(25.6)"><text x="408" y="4.5">At WRKY33</text></g>
<g id="LmWRKY35" transform="rotate(28.29)"><rect class="g" x="404" y="-10.5" width="77" height="21"/><text x="408" y="4.5">Lm WRKY35</text></g>
<g id="LmWRKY43" transform="rotate(30.98)"><rect class="g" x="404" y="-10.5" width="77" height="21"/><text x="408" y="4.5">Lm WRKY43</text></g>
<g id="AtWRKY58" transform="rotate(33.67)"><text x="408" y="4.5">At WRKY58</text></g>
<g id="LmWRKY9" transform="rotate(36.36)"><rect class="g" x="404" y="-10.5" width="72" height="21"/><text x="408" y="4.5">Lm WRKY9</text></g>
<g id="AtWRKY4" transform="rotate(39.05)"><text x="408" y="4.5">At WRKY4</text></g>
<g id="AtWRKY3" transform="rotate(41.74)"><text x="408" y="4.5">At WRKY3</text></g>
<g id="LmWRKY48" transform="rotate(44.43)"><rect class="g" x="404" y="-10.5" width="77" height="21"/><text x="408" y="4.5">Lm WRKY48</text></g>
<g id="LmWRKY53" transform="rotate(47.12)"><rect class="g" x="404" y="-10.5" width="77" height="21"/><text x="408" y="4.5">Lm WRKY53</text></g>
<g id="AtWRKY44" transform="rotate(49.81)"><text x="408" y="4.5">At WRKY44</text></g>
<g id="LmWRKY51" transform="rotate(52.5)"><rect class="g" x="404" y="-10.5" width="77" height="21"/><text x="408" y="4.5">Lm WRKY51</text></g>
<g id="AtWRKY32" transform="rotate(55.19)"><text x="408" y="4.5">At WRKY32</text></g>
<g id="LmWRKY44" transform="rotate(57.88)"><rect class="g" x="404" y="-10.5" width="77" height="21"/><text x="408" y="4.5">Lm WRKY44</text></g>
<g id="LmWRKY46" transform="rotate(60.57)"><rect class="g" x="404" y="-10.5" width="77" height="21"/><text x="408" y="4.5">Lm WRKY46</text></g>
<g id="AtWRKY1" transform="rotate(63.26)"><text x="408" y="4.5">At WRKY1</text></g>
<g id="LmWRKY47" transform="rotate(65.95)"><rect class="g" x="404" y="-10.5" width="77" height="21"/><text x="408" y="4.5">Lm WRKY47</text></g>
<g id="LmWRKY50" transform="rotate(68.64)"><rect class="g" x="404" y="-10.5" width="77" height="21"/><text x="408" y="4.5">Lm WRKY50</text></g>
<g id="AtWRKY75" transform="rotate(71.33)"><text x="408" y="4.5">At WRKY75</text></g>
<g id="LmWRKY16" transform="rotate(74.02)"><rect class="g" x="404" y="-10.5" width="77" height="21"/><text x="408" y="4.5">Lm WRKY16</text></g>
<g id="AtWRKY45" transform="rotate(76.8)"><text x="408" y="4.5">At WRKY45</text></g>
<g id="AtWRKY12" transform="rotate(79.49)"><text x="408" y="4.5">At WRKY12</text></g>
<g id="LmWRKY18" transform="rotate(82.18)"><rect class="g" x="404" y="-10.5" width="77" height="21"/><text x="408" y="4.5">Lm WRKY18</text></g>
<g id="AtWRKY13" transform="rotate(84.87)"><text x="408" y="4.5">At WRKY13</text></g>
<g id="LmWRKY24" transform="rotate(87.56)"><rect class="g" x="404" y="-10.5" width="77" height="21"/><text x="408" y="4.5">Lm WRKY24</text></g>
<g id="LmWRKY6" transform="rotate(90.25)"><rect class="g" x="404" y="-10.5" width="77" height="21"/><text class="e" transform="rotate(180)" x="-408" y="4.5">Lm WRKY6</text></g>
<g id="LmWRKY38" transform="rotate(92.94)"><rect class="g" x="404" y="-10.5" width="77" height="21"/><text class="e" transform="rotate(180)" x="-408" y="4.5">Lm WRKY38</text></g>
<g id="LmWRKY42" transform="rotate(95.63)"><rect class="g" x="404" y="-10.5" width="77" height="21"/><text class="e" transform="rotate(180)" x="-408" y="4.5">Lm WRKY42</text></g>
<g id="LmWRKY34" transform="rotate(98.32)"><rect class="g" x="404" y="-10.5" width="77" height="21"/><text class="e" transform="rotate(180)" x="-408" y="4.5">Lm WRKY34</text></g>
<g id="LmWRKY52" transform="rotate(101.01)"><rect class="g" x="404" y="-10.5" width="77" height="21"/><text class="e" transform="rotate(180)" x="-408" y="4.5">Lm WRKY52</text></g>
<g id="LmWRKY59" transform="rotate(103.7)"><rect class="g" x="404" y="-10.5" width="77" height="21"/><text class="e" transform="rotate(180)" x="-408" y="4.5">Lm WRKY59</text></g>
<g id="LmWRKY23" transform="rotate(106.39)"><rect class="g" x="404" y="-10.5" width="77" height="21"/><text class="e" transform="rotate(180)" x="-408" y="4.5">Lm WRKY23</text></g>
<g id="AtWRKY57" transform="rotate(109.08)"><text class="e" transform="rotate(180)" x="-408" y="4.5">At WRKY57</text></g>
<g id="LmWRKY56" transform="rotate(111.77)"><rect class="g" x="404" y="-10.5" width="77" height="21"/><text class="e" transform="rotate(180)" x="-408" y="4.5">Lm WRKY56</text></g>
<g id="AtWRKY28" transform="rotate(114.46)"><text class="e" transform="rotate(180)" x="-408" y="4.5">At WRKY28</text></g>
<g id="AtWRKY8" transform="rotate(117.15)"><text class="e" transform="rotate(180)" x="-408" y="4.5">At WRKY8</text></g>
<g id="LmWRKY11" transform="rotate(119.84)"><rect class="g" x="404" y="-10.5" width="77" height="21"/><text class="e" transform="rotate(180)" x="-408" y="4.5">Lm WRKY11</text></g>
<g id="AtWRKY71" transform="rotate(122.53)"><text class="e" transform="rotate(180)" x="-408" y="4.5">At WRKY71</text></g>
<g id="AtWRKY68" transform="rotate(125.22)"><text class="e" transform="rotate(180)" x="-408" y="4.5">At WRKY68</text></g>
<g id="AtWRKY23" transform="rotate(127.91)"><text class="e" transform="rotate(180)" x="-408" y="4.5">At WRKY23</text></g>
<g id="AtWRKY48" transform="rotate(130.6)"><text class="e" transform="rotate(180)" x="-408" y="4.5">At WRKY48</text></g>
<g id="LmWRKY12" transform="rotate(133.29)"><rect class="g" x="404" y="-10.5" width="77" height="21"/><text class="e" transform="rotate(180)" x="-408" y="4.5">Lm WRKY12</text></g>
<g id="LmWRKY25" transform="rotate(135.98)"><rect class="g" x="404" y="-10.5" width="77" height="21"/><text class="e" transform="rotate(180)" x="-408" y="4.5">Lm WRKY25</text></g>
<g id="AtWRKY43" transform="rotate(138.67)"><text class="e" transform="rotate(180)" x="-408" y="4.5">At WRKY43</text></g>
<g id="AtWRKY56" transform="rotate(141.36)"><text class="e" transform="rotate(180)" x="-408" y="4.5">At WRKY56</text></g>
<g id="AtWRKY24" transform="rotate(144.05)"><text class="e" transform="rotate(180)" x="-408" y="4.5">At WRKY24</text></g>
<g id="AtWRKY51" transform="rotate(146.74)"><text class="e" transform="rotate(180)" x="-408" y="4.5">At WRKY51</text></g>
<g id="LmWRKY20" transform="rotate(149.43)"><rect class="g" x="404" y="-10.5" width="77" height="21"/><text class="e" transform="rotate(180)" x="-408" y="4.5">Lm WRKY20</text></g>
<g id="AtWRKY59" transform="rotate(152.12)"><text class="e" transform="rotate(180)" x="-408" y="4.5">At WRKY59</text></g>
<g id="AtWRKY50" transform="rotate(154.81)"><text class="e" transform="rotate(180)" x="-408" y="4.5">At WRKY50</text></g>
<g id="LmWRKY28" transform="rotate(157.5)"><rect class="g" x="404" y="-10.5" width="77" height="21"/><text class="e" transform="rotate(180)" x="-408" y="4.5">Lm WRKY28</text></g>
<g id="LmWRKY36" transform="rotate(160.14)"><rect class="g" x="404" y="-10.5" width="77" height="21"/><text class="e" transform="rotate(180)" x="-408" y="4.5">Lm WRKY36</text></g>
<g id="AtWRKY40" transform="rotate(162.78)"><text class="e" transform="rotate(180)" x="-408" y="4.5">At WRKY40</text></g>
<g id="AtWRKY60" transform="rotate(165.42)"><text class="e" transform="rotate(180)" x="-408" y="4.5">At WRKY60</text></g>
<g id="AtWRKY18" transform="rotate(168.06)"><text class="e" transform="rotate(180)" x="-408" y="4.5">At WRKY18</text></g>
<g id="AtWRKY9" transform="rotate(170.7)"><text class="e" transform="rotate(180)" x="-408" y="4.5">At WRKY9</text></g>
<g id="LmWRKY8" transform="rotate(173.34)"><rect class="g" x="404" y="-10.5" width="72" height="21"/><text class="e" transform="rotate(180)" x="-408" y="4.5">Lm WRKY8</text></g>
<g id="AtWRKY61" transform="rotate(175.98)"><text class="e" transform="rotate(180)" x="-408" y="4.5">At WRKY61</text></g>
<g id="AtWRKY72" transform="rotate(178.62)"><text class="e" transform="rotate(180)" x="-408" y="4.5">At WRKY72</text></g>
<g id="LmWRKY2" transform="rotate(181.26)"><rect class="g" x="404" y="-10.5" width="77" height="21"/><text class="e" transform="rotate(180)" x="-408" y="4.5">Lm WRKY2</text></g>
<g id="LmWRKY15" transform="rotate(183.9)"><rect class="g" x="404" y="-10.5" width="77" height="21"/><text class="e" transform="rotate(180)" x="-408" y="4.5">Lm WRKY15</text></g>
<g id="AtWRKY36" transform="rotate(186.54)"><text class="e" transform="rotate(180)" x="-408" y="4.5">At WRKY36</text></g>
<g id="AtWRKY47" transform="rotate(189.18)"><text class="e" transform="rotate(180)" x="-408" y="4.5">At WRKY47</text></g>
<g id="LmWRKY45" transform="rotate(191.82)"><rect class="g" x="404" y="-10.5" width="77" height="21"/><text class="e" transform="rotate(180)" x="-408" y="4.5">Lm WRKY45</text></g>
<g id="LmWRKY54" transform="rotate(194.46)"><rect class="g" x="404" y="-10.5" width="77" height="21"/><text class="e" transform="rotate(180)" x="-408" y="4.5">Lm WRKY54</text></g>
<g id="LmWRKY49" transform="rotate(197.1)"><rect class="g" x="404" y="-10.5" width="77" height="21"/><text class="e" transform="rotate(180)" x="-408" y="4.5">Lm WRKY49</text></g>
<g id="LmWRKY4" transform="rotate(199.74)"><rect class="g" x="404" y="-10.5" width="77" height="21"/><text class="e" transform="rotate(180)" x="-408" y="4.5">Lm WRKY4</text></g>
<g id="LmWRKY5" transform="rotate(202.38)"><rect class="g" x="404" y="-10.5" width="77" height="21"/><text class="e" transform="rotate(180)" x="-408" y="4.5">Lm WRKY5</text></g>
<g id="LmWRKY13" transform="rotate(205.02)"><rect class="g" x="404" y="-10.5" width="77" height="21"/><text class="e" transform="rotate(180)" x="-408" y="4.5">Lm WRKY13</text></g>
<g id="LmWRKY14" transform="rotate(207.66)"><rect class="g" x="404" y="-10.5" width="77" height="21"/><text class="e" transform="rotate(180)" x="-408" y="4.5">Lm WRKY14</text></g>
<g id="AtWRKY6" transform="rotate(210.3)"><text class="e" transform="rotate(180)" x="-408" y="4.5">At WRKY6</text></g>
<g id="AtWRKY42" transform="rotate(212.94)"><text class="e" transform="rotate(180)" x="-408" y="4.5">At WRKY42</text></g>
<g id="AtWRKY31" transform="rotate(215.58)"><text class="e" transform="rotate(180)" x="-408" y="4.5">At WRKY31</text></g>
<g id="AtWRKY10" transform="rotate(218.22)"><rect class="y" x="404" y="-10.5" width="73" height="21"/><text class="e" transform="rotate(180)" x="-408" y="4.5">At WRKY10</text></g>
<g id="AtWRKY49" transform="rotate(220.86)"><rect class="y" x="404" y="-10.5" width="73" height="21"/><text class="e" transform="rotate(180)" x="-408" y="4.5">At WRKY49</text></g>
<g id="AtWRKY65" transform="rotate(223.5)"><rect class="y" x="404" y="-10.5" width="73" height="21"/><text class="e" transform="rotate(180)" x="-408" y="4.5">At WRKY65</text></g>
<g id="LmWRKY3" transform="rotate(226.14)"><rect class="g" x="404" y="-10.5" width="72" height="21"/><text class="e" transform="rotate(180)" x="-408" y="4.5">Lm WRKY3</text></g>
<g id="AtWRKY69" transform="rotate(228.78)"><text class="e" transform="rotate(180)" x="-408" y="4.5">At WRKY69</text></g>
<g id="LmWRKY17" transform="rotate(231.42)"><rect class="g" x="404" y="-10.5" width="77" height="21"/><text class="e" transform="rotate(180)" x="-408" y="4.5">Lm WRKY17</text></g>
<g id="AtWRKY14" transform="rotate(234.06)"><text class="e" transform="rotate(180)" x="-408" y="4.5">At WRKY14</text></g>
<g id="AtWRKY35" transform="rotate(236.7)"><text class="e" transform="rotate(180)" x="-408" y="4.5">At WRKY35</text></g>
<g id="AtWRKY29" transform="rotate(239.34)"><text class="e" transform="rotate(180)" x="-408" y="4.5">At WRKY29</text></g>
<g id="AtWRKY27" transform="rotate(241.98)"><text class="e" transform="rotate(180)" x="-408" y="4.5">At WRKY27</text></g>
<g id="AtWRKY22" transform="rotate(244.62)"><text class="e" transform="rotate(180)" x="-408" y="4.5">At WRKY22</text></g>
<g id="LmWRKY22" transform="rotate(247.26)"><rect class="g" x="404" y="-10.5" width="77" height="21"/><text class="e" transform="rotate(180)" x="-408" y="4.5">Lm WRKY22</text></g>
<g id="LmWRKY26" transform="rotate(249.9)"><rect class="g" x="404" y="-10.5" width="77" height="21"/><text class="e" transform="rotate(180)" x="-408" y="4.5">Lm WRKY26</text></g>
<g id="LmWRKY29" transform="rotate(252.54)"><rect class="g" x="404" y="-10.5" width="77" height="21"/><text class="e" transform="rotate(180)" x="-408" y="4.5">Lm WRKY29</text></g>
<g id="LmWRKY40" transform="rotate(255.18)"><rect class="g" x="404" y="-10.5" width="77" height="21"/><text class="e" transform="rotate(180)" x="-408" y="4.5">Lm WRKY40</text></g>
<g id="LmWRKY41" transform="rotate(257.82)"><rect class="g" x="404" y="-10.5" width="77" height="21"/><text class="e" transform="rotate(180)" x="-408" y="4.5">Lm WRKY41</text></g>
<g id="LmWRKY55" transform="rotate(260.46)"><rect class="g" x="404" y="-10.5" width="77" height="21"/><text class="e" transform="rotate(180)" x="-408" y="4.5">Lm WRKY55</text></g>
<g id="AtWRKY21" transform="rotate(263.1)"><text class="e" transform="rotate(180)" x="-408" y="4.5">At WRKY21</text></g>
<g id="LmWRKY37" transform="rotate(265.74)"><rect class="g" x="404" y="-10.5" width="77" height="21"/><text class="e" transform="rotate(180)" x="-408" y="4.5">Lm WRKY37</text></g>
<g id="AtWRKY39" transform="rotate(268.38)"><text class="e" transform="rotate(180)" x="-408" y="4.5">At WRKY39</text></g>
</g>
</g>
<g id="markers">
<circle class="dot" cx="748" cy="128" r="8"/>
<circle class="dot" cx="1080" cy="448" r="8"/>
<circle class="dot" cx="1060" cy="800" r="8"/>
<circle class="dot" cx="1003" cy="898" r="8"/>
<circle class="dot" cx="743" cy="1075" r="8"/>
<circle class="dot" cx="608" cy="1093" r="8"/>
<circle class="dot" cx="368" cy="1032" r="8"/>
<circle class="dot" cx="275" cy="963" r="8"/>
<circle class="dot" cx="120" cy="668" r="8"/>
<circle class="dot" cx="116" cy="599" r="8"/>
<circle class="dot" cx="117" cy="577" r="8"/>
<circle class="dot" cx="143" cy="442" r="8"/>
<circle class="dot" cx="151" cy="420" r="8"/>
<circle class="dot" cx="160" cy="400" r="8"/>
<circle class="dot" cx="169" cy="380" r="8"/>
<circle class="dot" cx="263" cy="252" r="8"/>
<circle class="dot" cx="297" cy="220" r="8"/>
<use href="#st" class="star" x="247" y="233"/>
<use href="#st" class="star" x="97" y="671"/>
<use href="#st" class="star" x="1083" y="810"/>
<use href="#st" class="star" x="750" y="1098"/>
</g>
</svg>
